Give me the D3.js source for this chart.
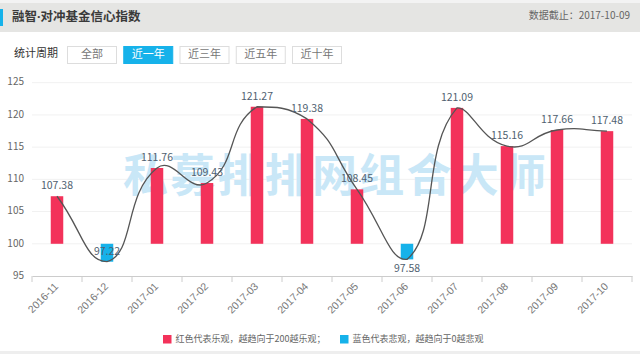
<!DOCTYPE html>
<html>
<head>
<meta charset="utf-8">
<script src="https://cdn.jsdelivr.net/npm/d3@7"></script>
<style>
  body { margin: 0; background: #fff; }
  svg { display: block; font-family: "Noto Sans CJK SC", "Noto Sans", sans-serif; }
</style>
</head>
<body>
<div id="container"></div>
<script>
/* CONSTANTS AND GLOBALS */
const width = 640;
const height = 354;
const plot = {left: 32, right: 632, top: 82.7, bottom: 276};

/* DATA */
const months = ["2016-11", "2016-12", "2017-01", "2017-02", "2017-03", "2017-04",
  "2017-05", "2017-06", "2017-07", "2017-08", "2017-09", "2017-10"];
const values = [107.38, 97.22, 111.76, 109.43, 121.27, 119.38, 108.45, 97.58, 121.09, 115.16, 117.66, 117.48];
const labelSide = ["top", "top", "top", "top", "top", "top", "top", "bottom", "top", "top", "top", "top"];
const yTicks = [95, 100, 105, 110, 115, 120, 125];
const periods = ["全部", "近一年", "近三年", "近五年", "近十年"];
const activePeriod = "近一年";
const legendItems = ["红色代表乐观，越趋向于200越乐观；", "蓝色代表悲观，越趋向于0越悲观"];

const red = "#f3325a";
const blue = "#16b2ea";

const svg = d3.select("#container")
  .append("svg")
    .attr("width", width)
    .attr("height", height);

// header band
svg.append("rect").attr("x", 0).attr("y", 0).attr("width", width).attr("height", 3).attr("fill", "#f3f3f3");
svg.append("rect").attr("x", 0).attr("y", 3).attr("width", width).attr("height", 29).attr("fill", "#e5e5e3");
svg.append("rect").attr("x", 0).attr("y", 9).attr("width", 3).attr("height", 17).attr("fill", blue);
const title = svg.append("text")
  .attr("x", 12).attr("y", 17.5)
  .attr("dominant-baseline", "middle")
  .attr("font-size", 12.5).attr("font-weight", "bold").attr("fill", "#3a3a3a");
title.append("tspan").text("融智");
title.append("tspan").attr("font-family", "Noto Sans").text("·");
title.append("tspan").text("对冲基金信心指数");
svg.append("text")
  .attr("x", 630).attr("y", 16)
  .attr("text-anchor", "end").attr("dominant-baseline", "middle")
  .attr("font-size", 10).attr("fill", "#666")
  .text("数据截止：2017-10-09");

// period buttons
svg.append("text")
  .attr("x", 14).attr("y", 54.5)
  .attr("dominant-baseline", "middle")
  .attr("font-size", 11).attr("fill", "#333")
  .text("统计周期");

const btnX = d3.scalePoint().domain(periods).range([67, 292]);
const btn = svg.selectAll("g.btn")
  .data(periods)
  .join("g")
    .attr("class", "btn")
    .attr("transform", d => `translate(${btnX(d)}, 46)`);
btn.append("rect")
  .attr("x", 0.5).attr("y", 0.5).attr("width", 49).attr("height", 17)
  .attr("fill", d => d === activePeriod ? blue : "#fff")
  .attr("stroke", d => d === activePeriod ? blue : "#ddd");
btn.append("text")
  .attr("x", 25).attr("y", 9.5)
  .attr("text-anchor", "middle").attr("dominant-baseline", "middle")
  .attr("font-size", 11)
  .attr("fill", d => d === activePeriod ? "#fff" : "#777")
  .text(d => d);

// scales
const xScale = d3.scaleBand().domain(months).range([plot.left, plot.right]);
const yScale = d3.scaleLinear().domain([95, 125]).range([plot.bottom, plot.top]);
const cx = d => xScale(d) + xScale.bandwidth() / 2;

// grid
svg.append("g")
  .selectAll("line")
  .data(yTicks.slice(1))
  .join("line")
    .attr("x1", plot.left).attr("x2", plot.right)
    .attr("y1", d => yScale(d)).attr("y2", d => yScale(d))
    .attr("stroke", "#f1f1f1");

// y axis labels
svg.append("g")
  .selectAll("text")
  .data(yTicks)
  .join("text")
    .attr("x", 24).attr("y", d => yScale(d))
    .attr("text-anchor", "end").attr("dominant-baseline", "middle")
    .attr("font-size", 10).attr("fill", "#666")
    .text(d => d);

// watermark
svg.append("text")
  .attr("x", 123).attr("y", 180)
  .attr("dominant-baseline", "middle")
  .attr("font-size", 45).attr("font-weight", "bold")
  .attr("fill", "#c9e7f7")
  .attr("textLength", 423).attr("lengthAdjust", "spacing")
  .text("私募排排网组合大师");

// x axis
const xAxis = d3.axisBottom(xScale).tickSize(0).tickFormat("");
const xAxisGroup = svg.append("g")
  .attr("transform", `translate(0, ${plot.bottom})`)
  .call(xAxis);
xAxisGroup.select(".domain").attr("stroke", "#ccc");
xAxisGroup.selectAll(".bound")
  .data(d3.range(months.length + 1))
  .join("line")
    .attr("class", "bound")
    .attr("x1", i => plot.left + i * xScale.step()).attr("x2", i => plot.left + i * xScale.step())
    .attr("y1", 0).attr("y2", 6)
    .attr("stroke", "#ccc");
xAxisGroup.selectAll(".lbl")
  .data(months)
  .join("text")
    .attr("class", "lbl")
    .attr("transform", d => `translate(${cx(d) + 2}, 11) rotate(-45)`)
    .attr("text-anchor", "end")
    .attr("font-size", 10.5).attr("fill", "#777")
    .text(d => d);

// bars
const barW = 12.5;
svg.append("g")
  .selectAll("rect")
  .data(values)
  .join("rect")
    .attr("x", (d, i) => cx(months[i]) - barW / 2)
    .attr("y", d => Math.min(yScale(d), yScale(100)))
    .attr("width", barW)
    .attr("height", d => Math.abs(yScale(d) - yScale(100)))
    .attr("fill", d => d >= 100 ? red : blue);

// smooth line (bezier with control points kept inside the data box)
const pts = values.map((d, i) => [cx(months[i]), yScale(d)]);
function smoothPath(points, smooth) {
  const minX = d3.min(points, p => p[0]), maxX = d3.max(points, p => p[0]);
  const minY = d3.min(points, p => p[1]), maxY = d3.max(points, p => p[1]);
  const clamp = (v, a, b) => Math.max(a, Math.min(b, v));
  const cps = points.map((p, i) => {
    const prev = points[i ? i - 1 : i];
    const next = points[i < points.length - 1 ? i + 1 : i];
    const vx = (next[0] - prev[0]) * smooth, vy = (next[1] - prev[1]) * smooth;
    let d0 = Math.hypot(p[0] - prev[0], p[1] - prev[1]);
    let d1 = Math.hypot(p[0] - next[0], p[1] - next[1]);
    const sum = d0 + d1;
    if (sum) { d0 /= sum; d1 /= sum; }
    return [
      [clamp(p[0] - vx * d0, minX, maxX), clamp(p[1] - vy * d0, minY, maxY)],
      [clamp(p[0] + vx * d1, minX, maxX), clamp(p[1] + vy * d1, minY, maxY)]
    ];
  });
  const path = d3.path();
  path.moveTo(points[0][0], points[0][1]);
  for (let i = 1; i < points.length; i++) {
    const c1 = cps[i - 1][1], c2 = cps[i][0];
    path.bezierCurveTo(c1[0], c1[1], c2[0], c2[1], points[i][0], points[i][1]);
  }
  return path.toString();
}
svg.append("path")
  .attr("d", smoothPath(pts, 0.5))
  .attr("fill", "none")
  .attr("stroke", "#555")
  .attr("stroke-width", 1.3);

// value labels
svg.append("g")
  .selectAll("text")
  .data(values)
  .join("text")
    .attr("x", (d, i) => cx(months[i]))
    .attr("y", (d, i) => yScale(d) + (labelSide[i] === "top" ? -10 : 10))
    .attr("text-anchor", "middle").attr("dominant-baseline", "middle")
    .attr("font-size", 10.5).attr("fill", "#4f5f70")
    .text(d => d.toFixed(2));

// legend
const legendX = [163, 340];
const legend = svg.selectAll("g.legend")
  .data(legendItems)
  .join("g")
    .attr("class", "legend")
    .attr("transform", (d, i) => `translate(${legendX[i]}, 335)`);
legend.append("rect")
  .attr("width", 8.5).attr("height", 8.5)
  .attr("fill", (d, i) => i === 0 ? red : blue);
legend.append("text")
  .attr("x", 12.5).attr("y", 4.5)
  .attr("dominant-baseline", "middle")
  .attr("font-size", 9).attr("fill", "#666")
  .text(d => d);

// bottom edge
svg.append("rect").attr("x", 0).attr("y", 351).attr("width", width).attr("height", 3).attr("fill", "#eeeeee");
</script>
</body>
</html>
